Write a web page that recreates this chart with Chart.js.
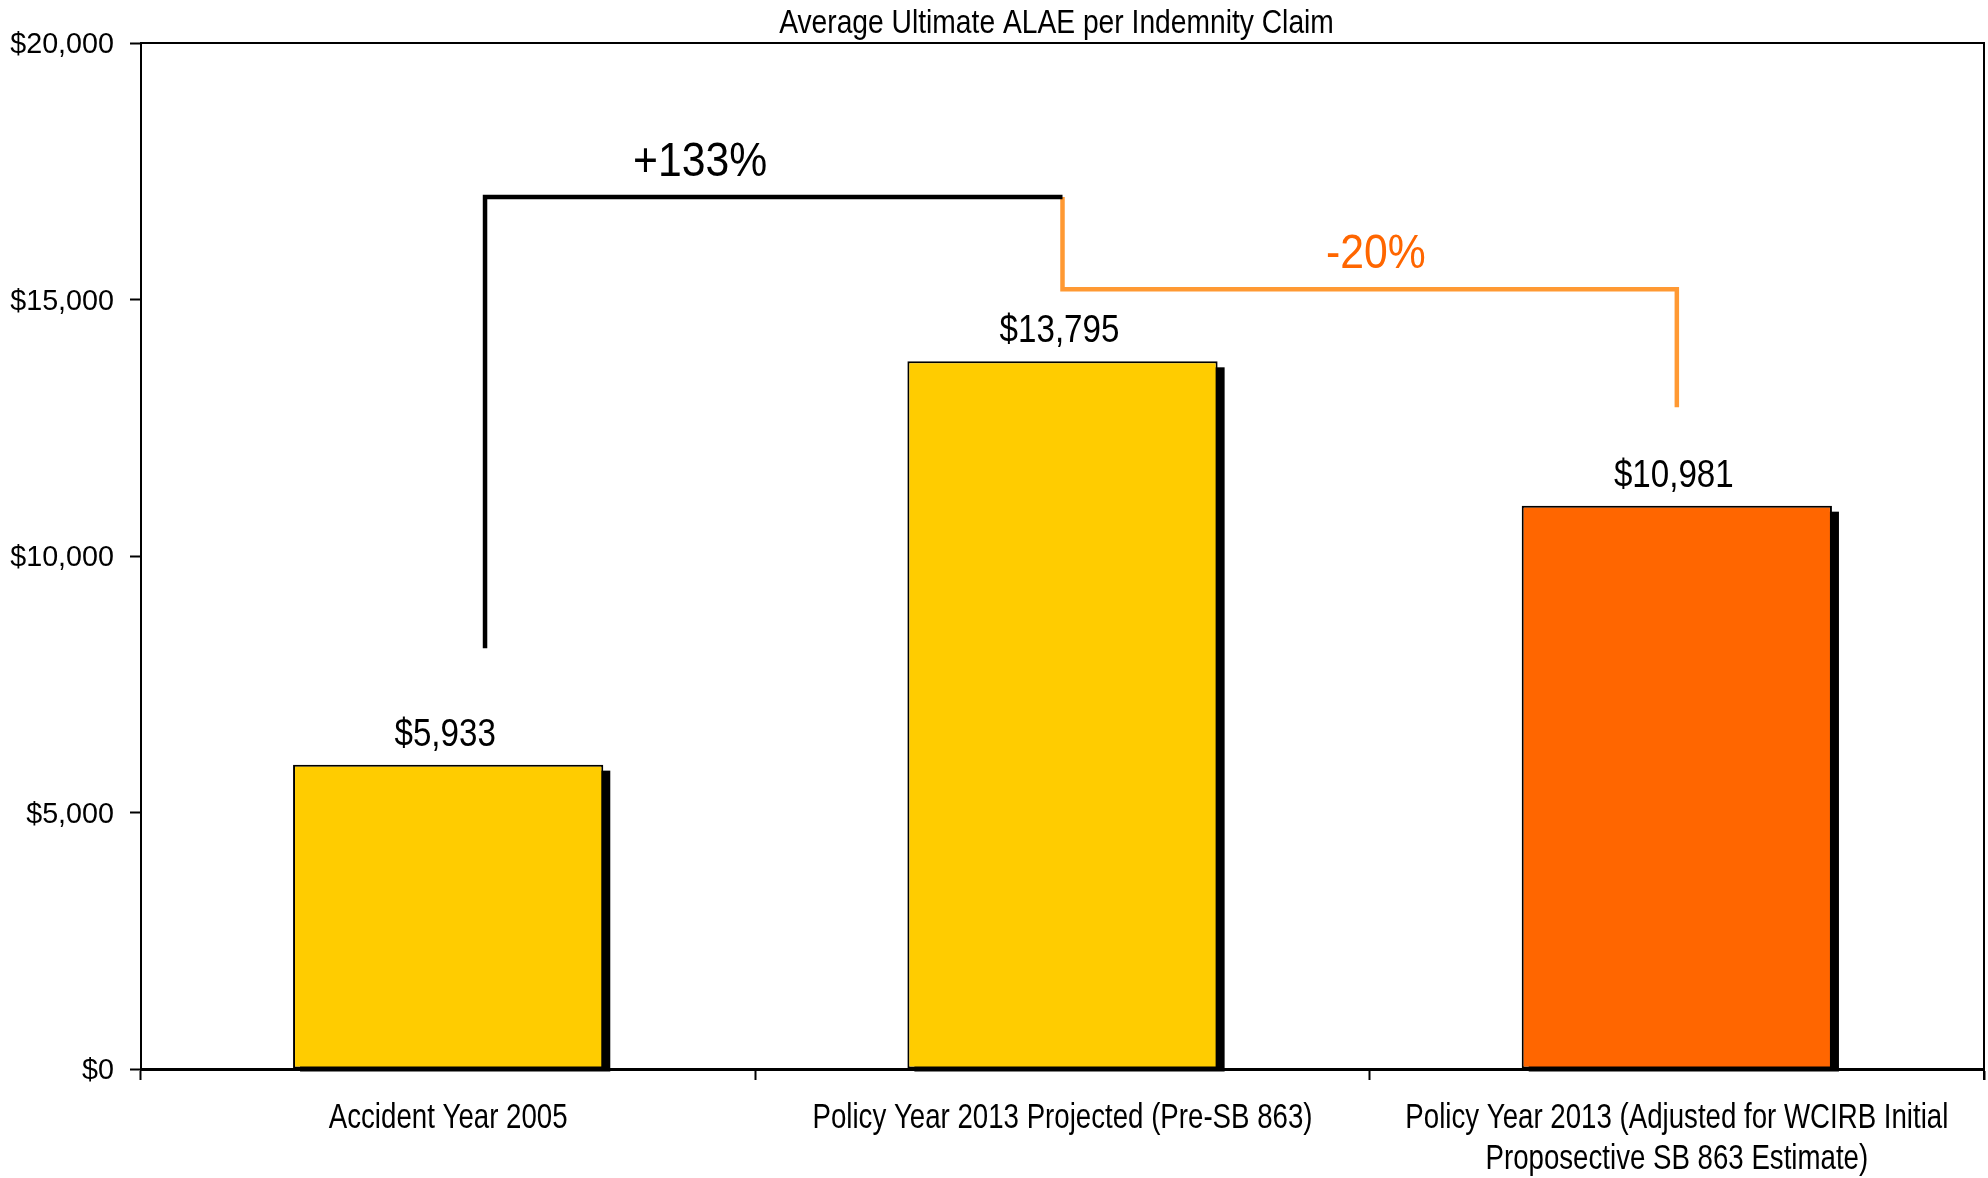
<!DOCTYPE html>
<html>
<head>
<meta charset="utf-8">
<script src="https://cdn.jsdelivr.net/npm/chart.js@4/dist/chart.umd.min.js"></script>
<style>
  html, body { margin: 0; padding: 0; background: #fff; }
  #wrap { width: 1988px; height: 1178px; }
</style>
</head>
<body>
<div id="wrap"><canvas id="alaeChart" width="1988" height="1178"></canvas></div>
<script>
const FONT = '"Liberation Sans", Arial, sans-serif';

// categories and values
const categories = [
  'Accident Year 2005',
  'Policy Year 2013 Projected (Pre-SB 863)',
  ['Policy Year 2013 (Adjusted for WCIRB Initial', 'Proposective SB 863 Estimate)']
];
const alaePerClaim = [5933, 13795, 10981];
const barColors = ['#FFCC00', '#FFCC00', '#FF6600'];

// change brackets, in category index / dollar units
const increaseBracket = [[0.06, 8200], [0.06, 17000], [1.0, 17000]];
const decreaseBracket = [[1.0, 17000], [1.0, 15200], [2.0, 15200], [2.0, 12900]];
const changeLabels = ['+133%', '-20%'];
const changeLabelAt = [[0.41, 17000], [1.51, 15200]];
const changeColors = ['#000', '#FF6600'];

const money = v => '$' + Number(v).toLocaleString('en-US');

// condensed text: regular face squeezed horizontally
function narrowText(ctx, text, x, y, size, squeeze, align, color) {
  ctx.save();
  ctx.translate(x, y);
  ctx.scale(squeeze, 1);
  ctx.font = size + 'px ' + FONT;
  ctx.textAlign = align;
  ctx.textBaseline = 'alphabetic';
  ctx.fillStyle = color || '#000';
  ctx.fillText(text, 0, 0);
  ctx.restore();
}

// black drop shadow behind each bar
const barShadow = {
  id: 'barShadow',
  beforeDatasetsDraw(chart) {
    const ctx = chart.ctx;
    const meta = chart.getDatasetMeta(0);
    ctx.save();
    ctx.fillStyle = '#000';
    meta.data.forEach(bar => {
      const w = bar.width;
      ctx.fillRect(bar.x - w / 2 + 7, bar.y + 6, w, bar.base - bar.y - 3);
    });
    ctx.restore();
  }
};

// frame, title, tick text, value labels and change brackets
const extras = {
  id: 'extras',
  afterDraw(chart) {
    const ctx = chart.ctx;
    const a = chart.chartArea;
    const xs = chart.scales.x, ys = chart.scales.y;
    ctx.save();

    // top and right frame
    ctx.strokeStyle = '#000';
    ctx.lineWidth = 2;
    ctx.beginPath();
    ctx.moveTo(a.left, a.top);
    ctx.lineTo(a.right, a.top);
    ctx.lineTo(a.right, a.bottom + 11);
    ctx.stroke();

    // title
    narrowText(ctx, 'Average Ultimate ALAE per Indemnity Claim', (a.left + a.right) / 2 - 6, 33, 34, 0.83, 'center');

    // y tick text
    ys.ticks.forEach(t => {
      narrowText(ctx, money(t.value), a.left - 27, ys.getPixelForValue(t.value) + 10, 29, 0.99, 'right');
    });

    // x tick text
    categories.forEach((c, i) => {
      const lines = Array.isArray(c) ? c : [c];
      lines.forEach((ln, k) => {
        narrowText(ctx, ln, xs.getPixelForValue(i), a.bottom + 59 + k * 41, 35, 0.79, 'center');
      });
    });

    // value labels
    chart.getDatasetMeta(0).data.forEach((bar, i) => {
      narrowText(ctx, money(alaePerClaim[i]), bar.x - 3, bar.y - 19, 39, 0.85, 'center');
    });

    // brackets
    const path = (pts, color) => {
      ctx.strokeStyle = color;
      ctx.lineWidth = 4.5;
      ctx.lineJoin = 'miter';
      ctx.beginPath();
      pts.forEach(([xv, yv], k) => {
        const px = xs.getPixelForValue(xv), py = ys.getPixelForValue(yv);
        if (k === 0) ctx.moveTo(px, py); else ctx.lineTo(px, py);
      });
      ctx.stroke();
    };
    path(decreaseBracket, '#FF9933');
    path(increaseBracket, '#000');

    changeLabels.forEach((txt, i) => {
      const [xv, yv] = changeLabelAt[i];
      narrowText(ctx, txt, xs.getPixelForValue(xv), ys.getPixelForValue(yv) - 21, 48, 0.89, 'center', changeColors[i]);
    });
    ctx.restore();
  }
};

new Chart(document.getElementById('alaeChart'), {
  type: 'bar',
  data: {
    labels: categories,
    datasets: [{
      data: alaePerClaim,
      backgroundColor: barColors,
      borderColor: '#000',
      borderWidth: 2,
      borderSkipped: false,
      barPercentage: 0.505,
      categoryPercentage: 1
    }]
  },
  options: {
    responsive: false,
    animation: false,
    devicePixelRatio: 1,
    layout: { padding: { top: 43, right: 4, left: 0, bottom: 0 } },
    plugins: {
      legend: { display: false },
      tooltip: { enabled: false }
    },
    scales: {
      x: {
        offset: true,
        grid: { offset: true, drawOnChartArea: false, tickLength: 11, color: '#000', tickWidth: 2 },
        border: { color: '#000', width: 3 },
        ticks: { color: 'rgba(0,0,0,0)', maxRotation: 0, autoSkip: false },
        afterFit(scale) { scale.height = 109; }
      },
      y: {
        min: 0,
        max: 20000,
        grid: { drawOnChartArea: false, tickLength: 11, color: '#000', tickWidth: 2 },
        border: { color: '#000', width: 2 },
        ticks: { stepSize: 5000, color: 'rgba(0,0,0,0)', callback: v => money(v) },
        afterFit(scale) { scale.width = 141; }
      }
    }
  },
  plugins: [barShadow, extras]
});
</script>
</body>
</html>
